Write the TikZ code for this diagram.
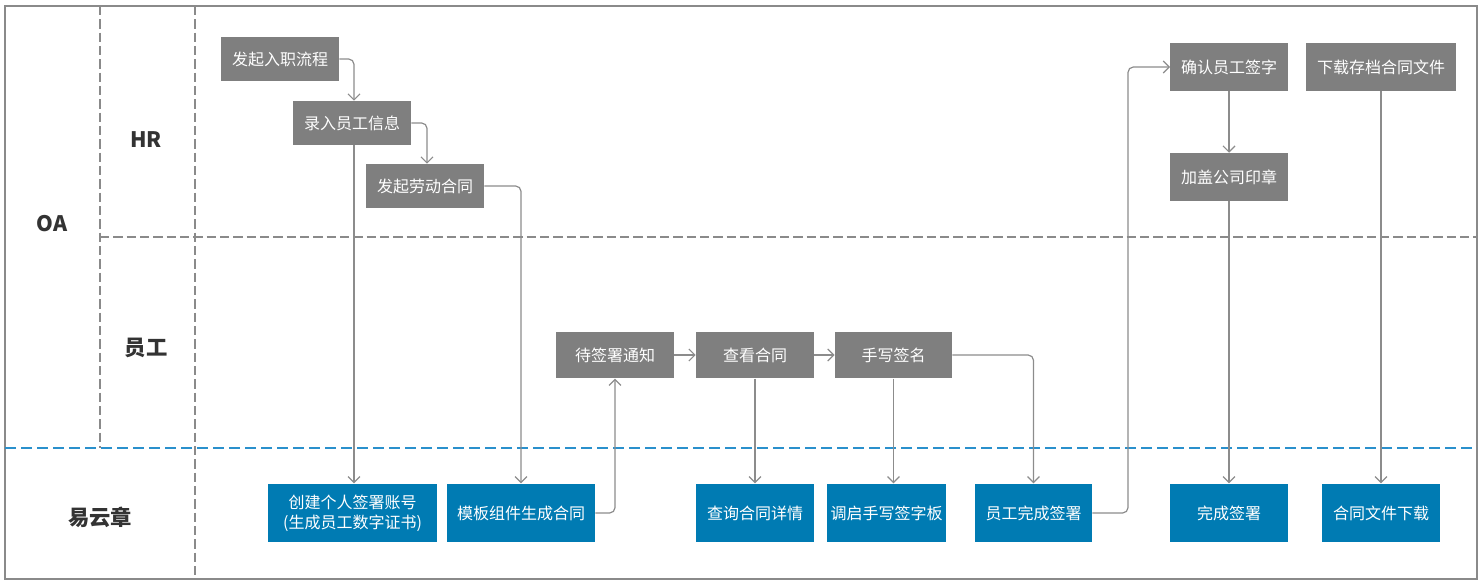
\documentclass[tikz,border=0pt]{standalone}
\usepackage{fontspec}
\setmainfont{Noto Sans CJK SC}
\newfontfamily\cjkbold{Noto Sans CJK SC}[FakeBold=0]
\usetikzlibrary{arrows.meta}
\definecolor{boxgray}{HTML}{7F7F7F}
\definecolor{boxblue}{HTML}{007BB3}
\definecolor{linegray}{HTML}{8C8C8C}
\definecolor{dashgray}{HTML}{8A8A8A}
\definecolor{dashblue}{HTML}{2A90CC}
\definecolor{labeltext}{HTML}{333333}
\tikzset{
  graybox/.style={fill=boxgray, text=white, inner sep=0pt, font=\fontsize{12}{14}\selectfont, align=center},
  bluebox/.style={fill=boxblue, text=white, inner sep=0pt, font=\fontsize{12}{15}\selectfont, align=center},
  lanelabel/.style={text=labeltext, font=\fontsize{16}{18}\selectfont\bfseries, inner sep=0pt},
  conn/.style={draw=linegray, line width=0.9pt, rounded corners=4pt, -{Straight Barb[length=4.5pt,width=9pt,line width=0.9pt]}},
  lanesep/.style={draw=dashgray, line width=0.8pt, dash pattern=on 7pt off 3pt},
  bluesep/.style={draw=dashblue, line width=0.9pt, dash pattern=on 8pt off 4pt},
}
\begin{document}
\begin{tikzpicture}[x=0.75pt,y=-0.75pt]
\useasboundingbox (0,0) rectangle (1484,588);
% frame
\draw[draw=dashgray, line width=1.1pt] (5,6) rectangle (1477,579);
\draw[lanesep] (100,6) -- (100,448);
\draw[lanesep] (195,6) -- (195,579);
\draw[lanesep] (100,237) -- (1477,237);
\draw[bluesep] (5,448) -- (1477,448);
% lane labels
\node[lanelabel] (lOA) at (52,224) {OA};
\node[lanelabel] (lHR) at (146,140) {HR};
\node[lanelabel] (lEmp) at (146,348) {员工};
\node[lanelabel] (lYi) at (100,517) {易云章};
% HR boxes
\node[graybox, minimum width=88.5pt, minimum height=33pt] (n1) at (280,59) {发起入职流程};
\node[graybox, minimum width=88.5pt, minimum height=33pt] (n2) at (352,123) {录入员工信息};
\node[graybox, minimum width=88.5pt, minimum height=33pt] (n3) at (425,186) {发起劳动合同};
\node[graybox, minimum width=88pt, minimum height=36pt] (r1) at (1229,67) {确认员工签字};
\node[graybox, minimum width=112pt, minimum height=36pt] (r3) at (1381,67) {下载存档合同文件};
\node[graybox, minimum width=88pt, minimum height=36pt] (r2) at (1229,177) {加盖公司印章};
% employee boxes
\node[graybox, minimum width=88.5pt, minimum height=35pt] (t1) at (615,355) {待签署通知};
\node[graybox, minimum width=88.5pt, minimum height=35pt] (t2) at (755,355) {查看合同};
\node[graybox, minimum width=88pt, minimum height=35pt] (t3) at (893.5,355) {手写签名};
% yiyunzhang boxes
\node[bluebox, minimum width=127pt, minimum height=44pt] (c1) at (352.5,513) {创建个人签署账号\\(生成员工数字证书)};
\node[bluebox, minimum width=111pt, minimum height=44pt] (c2) at (521,513) {模板组件生成合同};
\node[bluebox, minimum width=88.5pt, minimum height=44pt] (q1) at (755,513) {查询合同详情};
\node[bluebox, minimum width=89pt, minimum height=44pt] (q2) at (886.5,513) {调启手写签字板};
\node[bluebox, minimum width=88pt, minimum height=44pt] (q3) at (1033.5,513) {员工完成签署};
\node[bluebox, minimum width=88pt, minimum height=44pt] (s1) at (1229,513) {完成签署};
\node[bluebox, minimum width=88.5pt, minimum height=44pt] (s2) at (1381,513) {合同文件下载};
% connectors
\coordinate (kx) at (1128,300);
\draw[conn] (n1.east) -| ([xshift=1.5pt]n2.north);
\draw[conn] (n2.east) -| ([xshift=1.5pt]n3.north);
\draw[conn] ([xshift=1.5pt]n2.south) -- ([xshift=1.5pt]n2.south |- c1.north);
\draw[conn] (n3.east) -| (c2.north);
\draw[conn] (c2.east) -| (t1.south);
\draw[conn] (t1.east) -- (t2.west);
\draw[conn] (t2.east) -- (t3.west);
\draw[conn] (t2.south) -- (t2.south |- q1.north);
\draw[conn] (t3.south) -- (t3.south |- q2.north);
\draw[conn] (t3.east) -| (q3.north);
\draw[conn] (q3.east) -- (q3.east -| kx) -- (kx |- r1.west) -- (r1.west);
\draw[conn] (r1.south) -- (r2.north);
\draw[conn] (r2.south) -- (s1.north);
\draw[conn] (r3.south) -- (s2.north);
\end{tikzpicture}
\end{document}
